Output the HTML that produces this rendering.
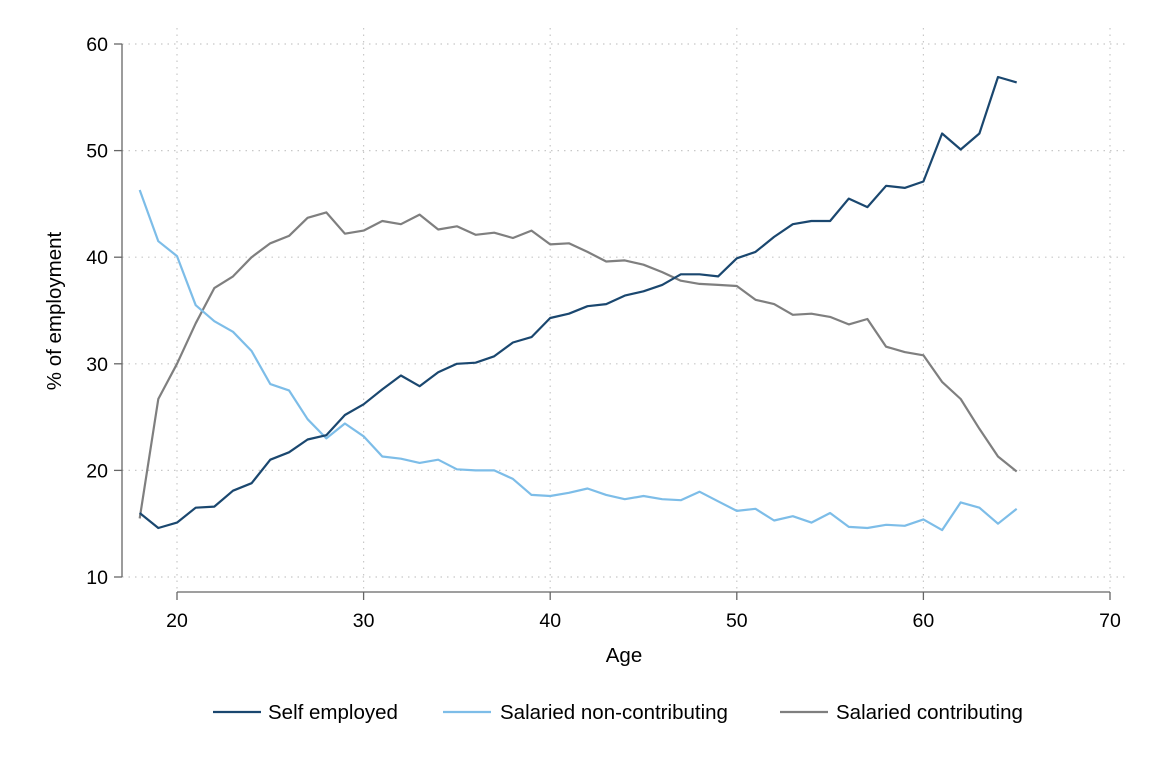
<!DOCTYPE html>
<html><head><meta charset="utf-8"><style>
body{margin:0;background:#fff;font-family:"Liberation Sans",Arial,sans-serif;}
svg text{font-family:"Liberation Sans",Arial,sans-serif;fill:#000;}
</style></head><body>
<svg id="chart" width="1155" height="770" xmlns="http://www.w3.org/2000/svg">
<g id="grid"></g>
<g id="axes"></g>
<g id="series"></g>
<text x="624" y="662" text-anchor="middle" font-size="20.5">Age</text>
<text transform="translate(61,311) rotate(-90)" text-anchor="middle" font-size="20.5">% of employment</text>
<g>
<g><line x1="213" y1="712" x2="261" y2="712" stroke="#1a476f" stroke-width="2.2"/><text x="268" y="719" font-size="20.5">Self employed</text></g>
<g><line x1="443" y1="712" x2="491" y2="712" stroke="#7dbde8" stroke-width="2.2"/><text x="500" y="719" font-size="20.5">Salaried non-contributing</text></g>
<g><line x1="780" y1="712" x2="828" y2="712" stroke="#7f7f7f" stroke-width="2.2"/><text x="836" y="719" font-size="20.5">Salaried contributing</text></g>
</g>
</svg>
<script>
const ages=[18,19,20,21,22,23,24,25,26,27,28,29,30,31,32,33,34,35,36,37,38,39,40,41,42,43,44,45,46,47,48,49,50,51,52,53,54,55,56,57,58,59,60,61,62,63,64,65];
const selfEmployed=[16.0,14.6,15.1,16.5,16.6,18.1,18.8,21.0,21.7,22.9,23.3,25.2,26.2,27.6,28.9,27.9,29.2,30.0,30.1,30.7,32.0,32.5,34.3,34.7,35.4,35.6,36.4,36.8,37.4,38.4,38.4,38.2,39.9,40.5,41.9,43.1,43.4,43.4,45.5,44.7,46.7,46.5,47.1,51.6,50.1,51.6,56.9,56.4];
const salariedNonContrib=[46.3,41.5,40.1,35.5,34.0,33.0,31.2,28.1,27.5,24.8,23.0,24.4,23.2,21.3,21.1,20.7,21.0,20.1,20.0,20.0,19.2,17.7,17.6,17.9,18.3,17.7,17.3,17.6,17.3,17.2,18.0,17.1,16.2,16.4,15.3,15.7,15.1,16.0,14.7,14.6,14.9,14.8,15.4,14.4,17.0,16.5,15.0,16.4];
const salariedContrib=[15.5,26.7,30.0,33.8,37.1,38.2,40.0,41.3,42.0,43.7,44.2,42.2,42.5,43.4,43.1,44.0,42.6,42.9,42.1,42.3,41.8,42.5,41.2,41.3,40.5,39.6,39.7,39.3,38.6,37.8,37.5,37.4,37.3,36.0,35.6,34.6,34.7,34.4,33.7,34.2,31.6,31.1,30.8,28.3,26.7,23.9,21.3,19.9];
const xTicks=[20,30,40,50,60,70];
const yTicks=[10,20,30,40,50,60];
const NS="http://www.w3.org/2000/svg";
function sx(v){return 177+(v-20)*(1110-177)/50;}
function sy(v){return 577-(v-10)*(577-44)/50;}
function mk(tag,attrs,parent){const e=document.createElementNS(NS,tag);for(const k in attrs)e.setAttribute(k,attrs[k]);parent.appendChild(e);return e;}
const grid=document.getElementById('grid'),axes=document.getElementById('axes'),ser=document.getElementById('series');
yTicks.forEach(t=>{
 const g=mk('line',{x1:122,x2:1128,y1:sy(t),y2:sy(t),stroke:'#c8c8c8','stroke-width':1.2,'stroke-dasharray':'1.5 5'},grid);
 
 
 const tk=mk('line',{x1:114,x2:122,y1:sy(t),y2:sy(t),stroke:'#666','stroke-width':1.3},axes);
 
 
 const tx=mk('text',{x:108,y:sy(t)+7,'text-anchor':'end','font-size':19.5},axes);tx.textContent=t;
 
 
});
xTicks.forEach(t=>{
 const g=mk('line',{x1:sx(t),x2:sx(t),y1:28,y2:592,stroke:'#c8c8c8','stroke-width':1.2,'stroke-dasharray':'1.5 5'},grid);
 
 
 const tk=mk('line',{x1:sx(t),x2:sx(t),y1:592,y2:600,stroke:'#666','stroke-width':1.3},axes);
 
 
 const tx=mk('text',{x:sx(t),y:627,'text-anchor':'middle','font-size':19.5},axes);tx.textContent=t;
 
 
});
const ya=mk('line',{x1:122,x2:122,y1:sy(60),y2:sy(10),stroke:'#666','stroke-width':1.3},axes);


const xa=mk('line',{x1:sx(20),x2:sx(70),y1:592,y2:592,stroke:'#666','stroke-width':1.3},axes);


function line(vals,color,name){
 const d=vals.map((v,i)=>(i?'L':'M')+sx(ages[i]).toFixed(1)+' '+sy(v).toFixed(1)).join(' ');
 const p=mk('path',{d:d,fill:'none',stroke:color,'stroke-width':2.2,'stroke-linejoin':'round'},ser);
 
 
}
line(salariedContrib,'#7f7f7f','line-salaried-contributing');
line(salariedNonContrib,'#7dbde8','line-salaried-non-contributing');
line(selfEmployed,'#1a476f','line-self-employed');
</script>
</body></html>
